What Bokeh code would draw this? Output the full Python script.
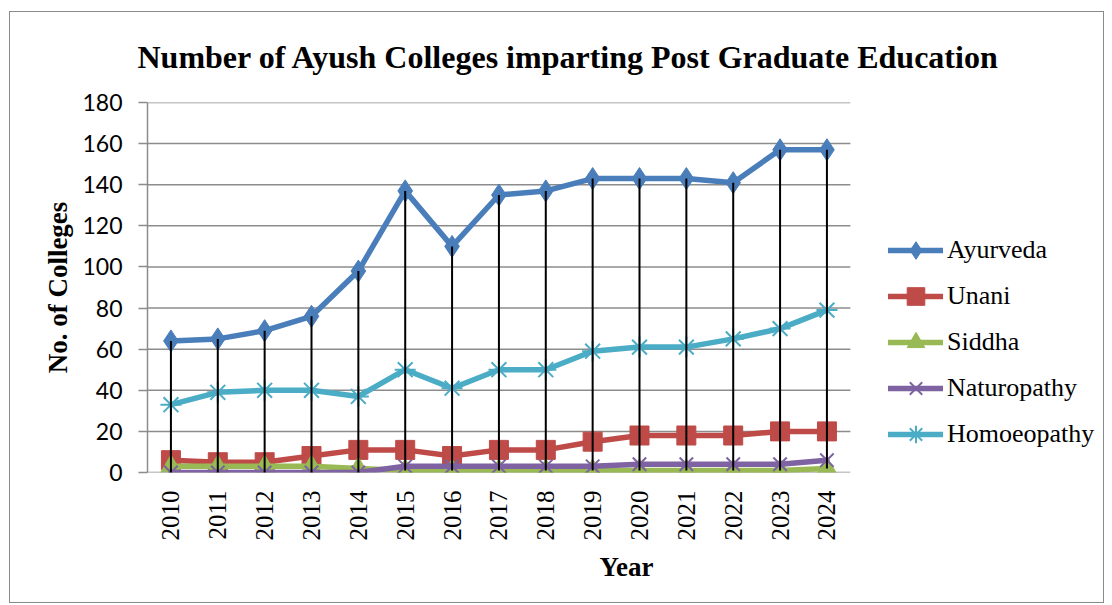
import numpy as np
from bokeh.plotting import figure
from bokeh.models import FixedTicker, Legend, LegendItem, Range1d, ColumnDataSource
from bokeh.embed import file_html
from bokeh.resources import INLINE

years = [2010, 2011, 2012, 2013, 2014, 2015, 2016, 2017, 2018, 2019, 2020, 2021, 2022, 2023, 2024]
ayurveda = [64, 65, 69, 76, 98, 137, 110, 135, 137, 143, 143, 143, 141, 157, 157]
unani = [6, 5, 5, 8, 11, 11, 8, 11, 11, 15, 18, 18, 18, 20, 20]
siddha = [3, 3, 3, 3, 2, 1, 1, 1, 1, 1, 1, 1, 1, 1, 2]
naturopathy = [0, 0, 0, 0, 0, 3, 3, 3, 3, 3, 4, 4, 4, 4, 6]
homoeopathy = [33, 39, 40, 40, 37, 50, 41, 50, 50, 59, 61, 61, 65, 70, 79]
y_ticks = [0, 20, 40, 60, 80, 100, 120, 140, 160, 180]

title_text = "Number of Ayush Colleges imparting Post Graduate Education"
SERIF = "Liberation Serif"

# plot-area extent in x (category slots), legend sits to the right of the last slot
x_lo = years[0] - 0.5
x_hi_grid = years[-1] + 0.5
x_hi_frame = x_lo + 958 / 46.857

p = figure(width=1095, height=592, output_backend="svg", toolbar_location=None,
           x_range=Range1d(x_lo, x_hi_frame), y_range=Range1d(0, 180),
           min_border_left=137, min_border_right=0, min_border_top=90, min_border_bottom=132)
p.styles = {"border": "1px solid #8a8a8a", "margin-left": "9px", "margin-top": "11px"}
p.outline_line_color = None
p.background_fill_color = "white"
p.border_fill_color = "white"

p.title.text = title_text
p.title.text_font = SERIF
p.title.text_font_size = "32px"
p.title.text_font_style = "bold"
p.title.text_color = "black"
p.title.align = "left"
p.title.vertical_align = "top"
p.title.offset = -10
p.title.standoff = 52

# grid (drawn only across the plot area)
p.xgrid.grid_line_color = None
p.ygrid.grid_line_color = None
p.segment(x0=[x_lo] * len(y_ticks), y0=y_ticks, x1=[x_hi_grid] * len(y_ticks), y1=y_ticks,
          line_color="#8c8c8c", line_width=1.5)

# y axis
p.yaxis.ticker = FixedTicker(ticks=y_ticks)
p.yaxis.axis_line_color = "#8c8c8c"
p.yaxis.axis_line_width = 1.5
p.yaxis.major_tick_line_color = "#8c8c8c"
p.yaxis.major_tick_line_width = 1.5
p.yaxis.major_tick_in = 0
p.yaxis.major_tick_out = 9
p.yaxis.minor_tick_line_color = None
p.yaxis.major_label_standoff = 16
p.yaxis.major_label_text_font = "Lato"
p.yaxis.major_label_text_font_size = "23px"
p.yaxis.major_label_text_color = "black"
p.yaxis.axis_label = "No. of Colleges"
p.yaxis.axis_label_text_font = SERIF
p.yaxis.axis_label_text_font_size = "27px"
p.yaxis.axis_label_text_font_style = "bold"
p.yaxis.axis_label_text_color = "black"
p.yaxis.axis_label_standoff = 6

# x axis
p.xaxis.ticker = FixedTicker(ticks=years)
p.xaxis.axis_line_color = None
p.xaxis.major_tick_line_color = None
p.xaxis.major_tick_in = 0
p.xaxis.major_tick_out = 0
p.xaxis.minor_tick_line_color = None
p.xaxis.major_label_orientation = np.pi / 2
p.xaxis.major_label_standoff = 18
p.xaxis.major_label_text_font = SERIF
p.xaxis.major_label_text_font_size = "25px"
p.xaxis.major_label_text_color = "black"
p.xaxis.axis_label = "Year"
p.xaxis.axis_label_text_font = SERIF
p.xaxis.axis_label_text_font_size = "27px"
p.xaxis.axis_label_text_font_style = "bold"
p.xaxis.axis_label_text_color = "black"
p.xaxis.axis_label_standoff = 8

series = [
    ("Ayurveda", ayurveda, "#4a7ebb", "diamond", 22, 1),
    ("Unani", unani, "#be4b48", "square", 19, 1),
    ("Siddha", siddha, "#98b954", "triangle", 20, 1),
    ("Naturopathy", naturopathy, "#7e62a1", "x", 19, 2),
    ("Homoeopathy", homoeopathy, "#4bacc6", "asterisk", 21, 2),
]

items = []
for name, vals, color, marker, size, mlw in series:
    src = ColumnDataSource(dict(x=years, y=vals))
    lr = p.line("x", "y", source=src, line_color=color, line_width=5.5,
                line_join="round", line_cap="round")
    mr = p.scatter("x", "y", source=src, marker=marker, size=size,
                   fill_color=color, line_color=color, line_width=mlw)
    items.append(LegendItem(label=name, renderers=[lr, mr]))

# high-low drop lines
stack = np.array([ayurveda, unani, siddha, naturopathy, homoeopathy])
p.segment(x0=years, y0=stack.min(axis=0), x1=years, y1=stack.max(axis=0),
          line_color="black", line_width=2)

legend = Legend(items=items, location=(741, 16), orientation="vertical")
legend.border_line_color = None
legend.background_fill_alpha = 0
legend.padding = 0
legend.margin = 0
legend.spacing = 2
legend.glyph_width = 55
legend.glyph_height = 44
legend.label_height = 44
legend.label_standoff = 4
legend.label_text_font = SERIF
legend.label_text_font_size = "26px"
legend.label_text_color = "black"
p.add_layout(legend, "center")

open("out.html", "w").write(file_html(p, INLINE))
